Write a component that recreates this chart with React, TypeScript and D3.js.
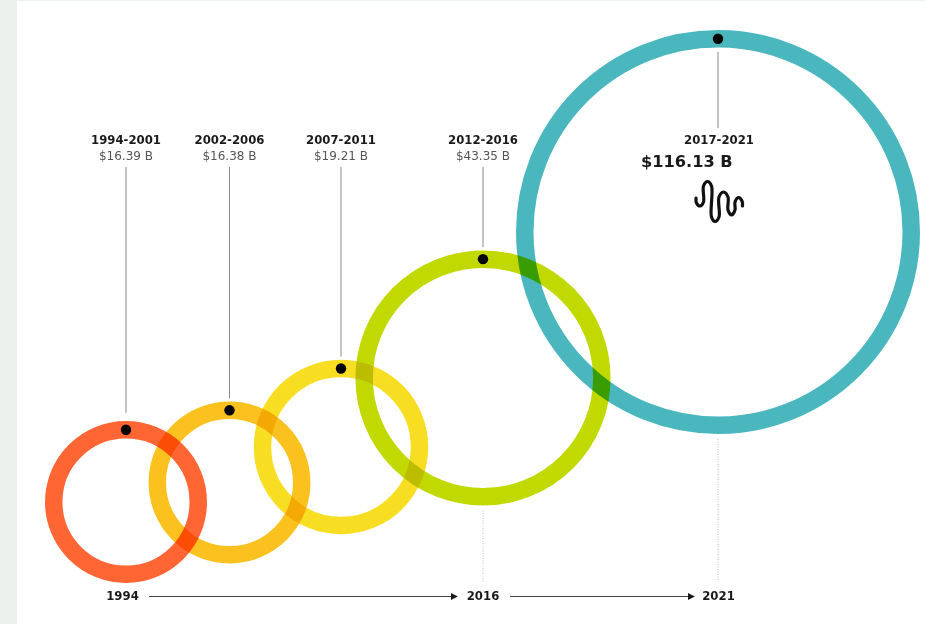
import React from "react";
import * as d3 from "d3";

const periods = ["1994-2001", "2002-2006", "2007-2011", "2012-2016", "2017-2021"];
const totals = [16.39, 16.38, 19.21, 43.35, 116.13];
const totalLabels = ["$16.39 B", "$16.38 B", "$19.21 B", "$43.35 B", "$116.13 B"];
const ringColors = ["#ff6633", "#fbc11e", "#f8de22", "#c2d900", "#4ab7be"];
const timelineYears = ["1994", "2016", "2021"];

const WIDTH = 925;
const HEIGHT = 624;
const RING_WIDTH = 17.5;
const INK = "#1a1a1a";
const FONT = "'DejaVu Sans', sans-serif";

const radius = d3.scalePow().exponent(0.465).domain([16.39, 116.13]).range([81, 202]);
const ringX = d3.scaleOrdinal<string, number>().domain(periods).range([126, 229.5, 341, 483, 718]);
const ringY = d3.scaleOrdinal<string, number>().domain(periods).range([502, 482.5, 447, 378, 232]);
const timelineX = d3.scaleOrdinal<string, number>().domain(timelineYears).range([122.5, 483, 718.5]);

// Squiggle glyph beside the headline total, traced lobe by lobe.
const wavePoints: [number, number][] = [
  [696, 198], [696.5, 203], [700, 206], [703.5, 202], [703.5, 186], [707.5, 181.5],
  [711.5, 186], [711.5, 217], [715, 221.5], [719, 217], [719, 197], [723.5, 192],
  [728, 197], [728, 210], [731.5, 215], [735, 210], [735, 202], [738.5, 197.5],
  [742, 201], [742.5, 206],
];
const waveLine = d3.line().curve(d3.curveCatmullRom.alpha(0.5));

export default function App() {
  const rings = periods.map((p, i) => {
    const r = radius(totals[i]);
    const cx = ringX(p);
    const cy = ringY(p);
    return { p, i, cx, cy, r, top: cy - r + RING_WIDTH / 2 };
  });
  return (
    <svg
      width={WIDTH}
      height={HEIGHT}
      viewBox={`0 0 ${WIDTH} ${HEIGHT}`}
      style={{ position: "fixed", left: 0, top: 0, background: "#ffffff", fontFamily: FONT }}
    >
      <defs>
        <marker id="head" viewBox="0 0 8 8" refX="7" refY="4" markerWidth="7" markerHeight="7" markerUnits="userSpaceOnUse" orient="auto">
          <path d="M0,0L8,4L0,8Z" fill={INK} />
        </marker>
      </defs>
      <rect x={0} y={0} width={17} height={HEIGHT} fill="#ebf1ec" />
      <rect x={0} y={0} width={WIDTH} height={1} fill="#ebf1ec" />

      {rings.map((c) => (
        <circle
          key={c.p}
          cx={c.cx}
          cy={c.cy}
          r={c.r - RING_WIDTH / 2}
          fill="none"
          stroke={ringColors[c.i]}
          strokeWidth={RING_WIDTH}
          style={{ mixBlendMode: "multiply" }}
        />
      ))}

      {rings.map((c) => {
        const last = c.i === rings.length - 1;
        return (
          <g key={c.p}>
            <line
              x1={c.cx}
              x2={c.cx}
              y1={last ? c.top + 13 : 167}
              y2={last ? 128 : c.top - (c.i === 0 ? 17 : 12)}
              stroke="#8a8a8a"
              strokeWidth={1}
            />
            <circle cx={c.cx} cy={c.top} r={5.2} fill="#000" />
          </g>
        );
      })}

      {rings.slice(0, 4).map((c) => (
        <g key={c.p} textAnchor="middle">
          <text x={c.cx} y={144} fontSize={11.7} fontWeight={700} fill={INK}>{c.p}</text>
          <text x={c.cx} y={160} fontSize={12} fill="#555">{totalLabels[c.i]}</text>
        </g>
      ))}
      <text x={719} y={144} textAnchor="middle" fontSize={11.7} fontWeight={700} fill={INK}>{periods[4]}</text>
      <text x={641} y={167} fontSize={16.2} fontWeight={700} fill={INK}>{totalLabels[4]}</text>
      <path d={waveLine(wavePoints) ?? ""} fill="none" stroke="#111" strokeWidth={3.2} strokeLinecap="round" strokeLinejoin="round" />

      {/* Dotted drop lines from the two later rings down to the timeline */}
      {rings.slice(3).map((c) => (
        <line
          key={c.p}
          x1={c.cx}
          x2={c.cx}
          y1={c.cy + c.r + 5}
          y2={582}
          stroke="#bdbdbd"
          strokeWidth={1}
          strokeDasharray="1 1.5"
        />
      ))}

      {timelineYears.map((y) => (
        <text key={y} x={timelineX(y)} y={600} textAnchor="middle" fontSize={11.7} fontWeight={700} fill={INK}>{y}</text>
      ))}
      <line x1={149} x2={457} y1={596.5} y2={596.5} stroke="#444" strokeWidth={1} markerEnd="url(#head)" />
      <line x1={510} x2={694} y1={596.5} y2={596.5} stroke="#444" strokeWidth={1} markerEnd="url(#head)" />
    </svg>
  );
}
